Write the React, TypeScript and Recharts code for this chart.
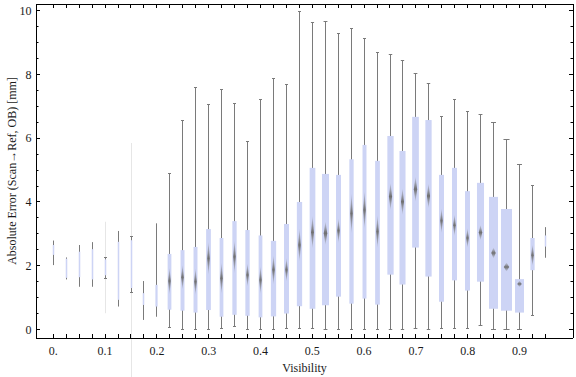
import React from 'react';
import { ComposedChart, Bar, XAxis, YAxis, Label } from 'recharts';

// Visibility bins (x categories)
const visibility = [0, 0.025, 0.05, 0.075, 0.1, 0.125, 0.15, 0.175, 0.2, 0.225, 0.25, 0.275, 0.3, 0.325, 0.35, 0.375, 0.4, 0.425, 0.45, 0.475, 0.5, 0.525, 0.55, 0.575, 0.6, 0.625, 0.65, 0.675, 0.7, 0.725, 0.75, 0.775, 0.8, 0.825, 0.85, 0.875, 0.9, 0.925, 0.95];

// Box-whisker statistics (absolute error, mm)
const whiskerLow = [2.02, 1.57, 1.34, 1.34, 1.61, 0.72, 1.17, 0.3, 0.4, 0.07, 0.0, 0.0, 0.0, 0.04, 0.1, 0.0, 0.0, 0.0, 0.04, 0.04, 0.04, 0.0, 0.0, 0.0, 0.0, 0.0, 0.0, 0.0, 0.04, 0.0, 0.04, 0.04, 0.04, 0.14, 0.0, 0.0, 0.0, 0.45, 2.25];
const quartile1 = [2.34, 1.62, 1.64, 1.57, 1.7, 0.93, 1.3, 0.77, 0.72, 0.62, 0.59, 0.53, 0.61, 0.4, 0.46, 0.43, 0.38, 0.41, 0.5, 0.73, 0.65, 0.76, 1.03, 0.81, 0.97, 0.78, 1.72, 1.41, 2.57, 1.66, 0.87, 1.54, 1.22, 1.5, 0.65, 0.59, 0.53, 1.86, 2.6];
const medians = [2.5, 1.9, 2.0, 2.0, 1.9, 1.8, 2.0, 0.95, 1.0, 1.52, 1.64, 1.5, 2.23, 1.61, 2.28, 1.71, 1.55, 1.87, 1.87, 2.65, 3.05, 3.02, 3.1, 3.64, 3.75, 3.07, 4.17, 4.01, 4.4, 4.19, 3.41, 3.27, 2.87, 3.04, 2.4, 1.96, 1.43, 2.33, 2.9];
const quartile3 = [2.65, 2.22, 2.44, 2.52, 2.2, 2.75, 2.8, 1.14, 1.4, 2.37, 2.49, 2.59, 3.15, 2.87, 3.4, 3.12, 2.95, 2.78, 3.31, 4.0, 5.07, 4.88, 4.85, 5.34, 5.79, 5.29, 6.07, 5.6, 6.67, 6.57, 4.85, 5.07, 4.34, 4.6, 4.16, 3.78, 1.58, 2.87, 2.95];
const whiskerHigh = [2.79, 2.26, 2.65, 2.74, 2.26, 3.09, 2.93, 1.52, 3.33, 4.9, 6.55, 7.6, 7.06, 7.53, 7.1, 5.9, 7.2, 7.88, 7.69, 9.97, 9.64, 9.67, 9.27, 9.45, 9.13, 8.7, 8.64, 8.44, 8.04, 7.72, 6.69, 7.22, 6.84, 6.75, 6.5, 5.97, 5.18, 4.52, 3.21];
// half-height of the median confidence (notch) marker, mm
const medianNotch = [0, 0, 0, 0, 0, 0, 0, 0, 0, 0.42, 0.39, 0.42, 0.52, 0.5, 0.52, 0.37, 0.44, 0.47, 0.37, 0.52, 0.52, 0.37, 0.39, 0.63, 0.6, 0.52, 0.43, 0.42, 0.39, 0.39, 0.39, 0.34, 0.31, 0.24, 0.17, 0.14, 0.1, 0.34, 0];
// relative sample size (box width share)
const sampleShare = [0.11, 0.14, 0.14, 0.14, 0.14, 0.14, 0.14, 0.14, 0.2, 0.34, 0.36, 0.36, 0.43, 0.34, 0.39, 0.39, 0.34, 0.48, 0.45, 0.48, 0.52, 0.64, 0.45, 0.39, 0.36, 0.43, 0.57, 0.55, 0.61, 0.57, 0.45, 0.45, 0.45, 0.64, 0.82, 1.0, 0.82, 0.39, 0.09];
// faint full-range traces for sparse bins
const faintLow: (number | null)[] = [null, null, null, null, 0.51, null, -1.5, null, null, null, null, null, null, null, null, null, null, null, null, null, null, null, null, null, null, null, null, null, null, null, null, null, null, null, null, null, null, null, null];
const faintHigh: (number | null)[] = [null, null, null, null, 3.38, null, 5.85, null, null, null, null, null, null, null, null, null, null, null, null, null, null, null, null, null, null, null, null, null, null, null, null, null, null, null, null, null, null, null, null];

const xLabelValues = [0, 0.1, 0.2, 0.3, 0.4, 0.5, 0.6, 0.7, 0.8, 0.9];
const xLabelTexts = ['0.', '0.1', '0.2', '0.3', '0.4', '0.5', '0.6', '0.7', '0.8', '0.9'];
const yTicks = [0, 0.5, 1, 1.5, 2, 2.5, 3, 3.5, 4, 4.5, 5, 5.5, 6, 6.5, 7, 7.5, 8, 8.5, 9, 9.5, 10];
const yLabelValues = [0, 2, 4, 6, 8, 10];
const yLabelTexts = ['0', '2', '4', '6', '8', '10'];

const data = visibility.map((v, i) => ({
  vis: v,
  range: [whiskerLow[i], whiskerHigh[i]],
  q1: quartile1[i],
  med: medians[i],
  q3: quartile3[i],
  notch: medianNotch[i],
  share: sampleShare[i],
  faintLo: faintLow[i],
  faintHi: faintHigh[i],
}));

const FONT = 'Liberation Serif, Times New Roman, serif';
const TXT = '#1a1a1a';
const snap = (v: number) => Math.floor(v) + 0.5;

function BoxShape(props: any) {
  const { x, y, width, height, payload } = props;
  if (!payload || height == null || !isFinite(height)) return null;
  const [lo, hi] = payload.range;
  const ppu = height / (hi - lo);
  const py = (v: number) => y + (hi - v) * ppu;
  const cx = snap(x + width / 2);
  const bw = Math.max(1.5, payload.share * width);
  const hasFaint = payload.faintLo != null && payload.faintHi != null;
  const capW = bw >= 3 || hasFaint ? Math.max(3, 0.55 * bw) : 0;
  const my = py(payload.med);
  const nh = payload.notch * ppu;
  const sw = Math.max(2.6, 0.5 * bw);
  return (
    <g>
      <defs>
        <linearGradient id="spindleGrad" x1="0" y1="0" x2="0" y2="1">
          <stop offset="0" stopColor="#7a7a7a" stopOpacity={0.1} />
          <stop offset="0.5" stopColor="#6f6f6f" stopOpacity={1} />
          <stop offset="1" stopColor="#7a7a7a" stopOpacity={0.1} />
        </linearGradient>
      </defs>
      {hasFaint && (
        <line x1={cx} x2={cx} y1={py(payload.faintHi)} y2={py(payload.faintLo)} stroke="#e6e6e6" strokeWidth={1} />
      )}
      <line x1={cx} x2={cx} y1={py(hi)} y2={py(lo)} stroke="#7a7a7a" strokeWidth={1} />
      {capW > 0 && (
        <>
          <line x1={cx - capW / 2} x2={cx + capW / 2} y1={snap(py(hi))} y2={snap(py(hi))} stroke="#7a7a7a" strokeWidth={1} />
          <line x1={cx - capW / 2} x2={cx + capW / 2} y1={snap(py(lo))} y2={snap(py(lo))} stroke="#7a7a7a" strokeWidth={1} />
        </>
      )}
      <rect x={cx - bw / 2} y={py(payload.q3)} width={bw} height={py(payload.q1) - py(payload.q3)} fill="#cdd4f5" />
      {nh > 0 && (
        <polygon
          points={`${cx},${my - nh} ${cx + sw / 2},${my} ${cx},${my + nh} ${cx - sw / 2},${my}`}
          fill="url(#spindleGrad)"
        />
      )}
    </g>
  );
}

const labelFor = (v: number, vals: number[], texts: string[]) => {
  const k = vals.findIndex((t) => Math.abs(t - v) < 1e-6);
  return k >= 0 ? texts[k] : null;
};

function BottomTick(props: any) {
  const { x, y, payload } = props;
  const lab = labelFor(payload.value, xLabelValues, xLabelTexts);
  const xs = snap(x);
  return (
    <g>
      <line x1={xs} x2={xs} y1={y} y2={y - 4} stroke="#000" strokeWidth={1} />
      {lab && (
        <text x={x} y={y + 17} textAnchor="middle" fontFamily={FONT} fontSize={12} fill={TXT}>
          {lab}
        </text>
      )}
    </g>
  );
}

function TopTick(props: any) {
  const { x, y } = props;
  const xs = snap(x);
  return <line x1={xs} x2={xs} y1={y} y2={y + 4} stroke="#000" strokeWidth={1} />;
}

function LeftTick(props: any) {
  const { x, y, payload } = props;
  const lab = labelFor(payload.value, yLabelValues, yLabelTexts);
  const ys = snap(y);
  const len = lab ? 4 : 2.5;
  return (
    <g>
      <line x1={x} x2={x + len} y1={ys} y2={ys} stroke="#000" strokeWidth={1} />
      {lab && (
        <text x={x - 4.5} y={y} dy="0.35em" textAnchor="end" fontFamily={FONT} fontSize={12} fill={TXT}>
          {lab}
        </text>
      )}
    </g>
  );
}

function RightTick(props: any) {
  const { x, y, payload } = props;
  const lab = labelFor(payload.value, yLabelValues, yLabelTexts);
  const ys = snap(y);
  const len = lab ? 4 : 2.5;
  return <line x1={x} x2={x - len} y1={ys} y2={ys} stroke="#000" strokeWidth={1} />;
}

const xDomain: [number, number] = [-0.0334, 1.0033];
const yDomain: [number, number] = [-0.267, 10.21];

export default function App() {
  return (
    <div style={{ position: 'absolute', left: 0, top: 0, width: 576, height: 377, background: '#fff' }}>
      <ComposedChart width={576} height={377} data={data} margin={{ top: 3, right: 2, bottom: 38, left: 35 }}>
        <XAxis
          xAxisId="b"
          type="number"
          dataKey="vis"
          domain={xDomain}
          ticks={visibility}
          interval={0}
          height={1}
          tickSize={0}
          tickMargin={0}
          tickLine={false}
          axisLine={{ stroke: '#000', shapeRendering: 'crispEdges' }}
          tick={(p: any) => <BottomTick {...p} />}
        >
          <Label
            content={(lp: any) => {
              const vb = lp.viewBox || {};
              return (
                <text x={vb.x + vb.width / 2} y={vb.y + 34} textAnchor="middle" fontFamily={FONT} fontSize={12} fill={TXT}>
                  Visibility
                </text>
              );
            }}
          />
        </XAxis>
        <XAxis
          xAxisId="t"
          orientation="top"
          type="number"
          dataKey="vis"
          domain={xDomain}
          allowDataOverflow
          ticks={visibility}
          interval={0}
          height={1}
          tickSize={0}
          tickMargin={0}
          tickLine={false}
          axisLine={{ stroke: '#000', shapeRendering: 'crispEdges' }}
          tick={(p: any) => <TopTick {...p} />}
        />
        <YAxis
          yAxisId="l"
          type="number"
          domain={yDomain}
          ticks={yTicks}
          interval={0}
          width={1}
          tickSize={0}
          tickMargin={0}
          tickLine={false}
          axisLine={{ stroke: '#000', shapeRendering: 'crispEdges' }}
          tick={(p: any) => <LeftTick {...p} />}
        >
          <Label
            content={(lp: any) => {
              const vb = lp.viewBox || {};
              const cx = 11.5;
              const cy = vb.y + vb.height / 2;
              return (
                <text
                  x={cx}
                  y={cy}
                  transform={`rotate(-90 ${cx} ${cy})`}
                  textAnchor="middle"
                  dominantBaseline="central"
                  fontFamily={FONT}
                  fontSize={12}
                  fill={TXT}
                >
                  Absolute Error (Scan→Ref, OB) [mm]
                </text>
              );
            }}
          />
        </YAxis>
        <YAxis
          yAxisId="r"
          orientation="right"
          type="number"
          domain={yDomain}
          allowDataOverflow
          ticks={yTicks}
          interval={0}
          width={1}
          tickSize={0}
          tickMargin={0}
          tickLine={false}
          axisLine={{ stroke: '#000', shapeRendering: 'crispEdges' }}
          tick={(p: any) => <RightTick {...p} />}
        />
        <Bar
          xAxisId="b"
          yAxisId="l"
          dataKey="range"
          barSize={11}
          shape={(p: any) => <BoxShape {...p} />}
          isAnimationActive={false}
        />
      </ComposedChart>
    </div>
  );
}
